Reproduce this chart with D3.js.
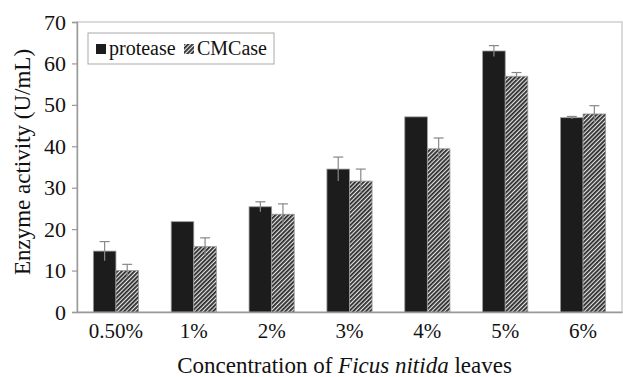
<!DOCTYPE html>
<html>
<head>
<meta charset="utf-8">
<script src="https://cdn.jsdelivr.net/npm/d3@7"></script>
<style>
  body { margin: 0; background: #fff; }
  text { font-family: "Liberation Serif", "Times New Roman", serif; fill: #111; }
</style>
</head>
<body>
<script>
// chart data
var categories = ["0.50%", "1%", "2%", "3%", "4%", "5%", "6%"];
var series = ["protease", "CMCase"];
var protease = [14.7, 21.8, 25.4, 34.5, 47.1, 63.0, 46.9];
var proteaseErr = [2.3, 0, 1.2, 2.9, 0, 1.3, 0.3];
var cmcase = [10.0, 15.8, 23.6, 31.6, 39.4, 56.9, 47.8];
var cmcaseErr = [1.5, 2.1, 2.5, 2.9, 2.6, 0.9, 2.0];
var yTicks = [0, 10, 20, 30, 40, 50, 60, 70];

var w = 623, h = 377;
var margin = {top: 22, right: 1, bottom: 65, left: 77};
var iw = w - margin.left - margin.right;
var ih = h - margin.top - margin.bottom;

var svg = d3.select("body").append("svg")
    .attr("width", w)
    .attr("height", h);

// hatch for CMCase
var defs = svg.append("defs");
var pat = defs.append("pattern")
    .attr("id", "hatch")
    .attr("patternUnits", "userSpaceOnUse")
    .attr("width", 3)
    .attr("height", 3)
    .attr("patternTransform", "rotate(45)");
pat.append("rect").attr("width", 3).attr("height", 3).attr("fill", "#e6e6e6");
pat.append("rect").attr("width", 1.8).attr("height", 3).attr("fill", "#2a2a2a");

var g = svg.append("g").attr("transform", "translate(" + margin.left + "," + margin.top + ")");

var x0 = d3.scaleBand().domain(categories).range([0, iw]).paddingInner(0.42).paddingOuter(0.21);
var x1 = d3.scaleBand().domain(series).range([0, x0.bandwidth()]);
var y = d3.scaleLinear().domain([0, 70]).range([ih, 0]);

// frame
g.append("rect")
    .attr("width", iw).attr("height", ih)
    .attr("fill", "none").attr("stroke", "#c4c4c4").attr("stroke-width", 1.2);

var rows = categories.map(function(c, i) {
  return [
    {cat: c, s: "protease", v: protease[i], e: proteaseErr[i]},
    {cat: c, s: "CMCase", v: cmcase[i], e: cmcaseErr[i]}
  ];
});
var flat = [].concat.apply([], rows);

g.selectAll("rect.bar")
  .data(flat)
  .enter()
  .append("rect")
  .attr("class", "bar")
  .attr("x", function(d) { return x0(d.cat) + x1(d.s); })
  .attr("y", function(d) { return y(d.v); })
  .attr("width", x1.bandwidth())
  .attr("height", function(d) { return ih - y(d.v); })
  .attr("fill", function(d) { return d.s == "protease" ? "#1c1c1c" : "url(#hatch)"; })
  .attr("stroke", "#9a9a9a")
  .attr("stroke-width", 0.8);

// error bars
var eb = g.selectAll("g.err")
  .data(flat.filter(function(d) { return d.e > 0; }))
  .enter()
  .append("g")
  .attr("class", "err");
eb.append("line")
  .attr("x1", function(d) { return x0(d.cat) + x1(d.s) + x1.bandwidth() / 2; })
  .attr("x2", function(d) { return x0(d.cat) + x1(d.s) + x1.bandwidth() / 2; })
  .attr("y1", function(d) { return y(d.v - d.e); })
  .attr("y2", function(d) { return y(d.v + d.e); })
  .attr("stroke", "#888")
  .attr("stroke-width", 1.2);
eb.append("line")
  .attr("x1", function(d) { return x0(d.cat) + x1(d.s) + x1.bandwidth() / 2 - 5; })
  .attr("x2", function(d) { return x0(d.cat) + x1(d.s) + x1.bandwidth() / 2 + 5; })
  .attr("y1", function(d) { return y(d.v + d.e); })
  .attr("y2", function(d) { return y(d.v + d.e); })
  .attr("stroke", "#888")
  .attr("stroke-width", 1.2);

// y axis
var yAxis = g.append("g")
  .call(d3.axisLeft(y).tickValues(yTicks).tickSize(5).tickPadding(6));
yAxis.select(".domain").attr("stroke", "#999").attr("stroke-width", 1.4);
yAxis.selectAll(".tick line").attr("stroke", "#999").attr("stroke-width", 1.2);
yAxis.selectAll("text").attr("font-size", "22px").attr("fill", "#111")
  .attr("font-family", "Liberation Serif, serif");

// x axis
var xAxis = g.append("g")
  .attr("transform", "translate(0," + ih + ")")
  .call(d3.axisBottom(x0).tickSize(0).tickPadding(11));
xAxis.select(".domain").attr("stroke", "#999").attr("stroke-width", 1.4);
xAxis.selectAll("text").attr("font-size", "21px").attr("fill", "#111")
  .attr("font-family", "Liberation Serif, serif");

// axis titles
svg.append("text")
  .attr("transform", "translate(30," + (margin.top + ih / 2 - 5) + ") rotate(-90)")
  .attr("text-anchor", "middle")
  .attr("font-size", "23px")
  .text("Enzyme activity (U/mL)");

var xt = svg.append("text")
  .attr("x", margin.left + iw / 2 - 5)
  .attr("y", 373)
  .attr("text-anchor", "middle")
  .attr("font-size", "23px");
xt.append("tspan").text("Concentration of ");
xt.append("tspan").attr("font-style", "italic").text("Ficus nitida");
xt.append("tspan").text(" leaves");

// legend
var leg = svg.append("g").attr("transform", "translate(88,33)");
leg.append("rect")
  .attr("width", 186).attr("height", 31)
  .attr("fill", "#fff").attr("stroke", "#aaa").attr("stroke-width", 1);
var items = [
  {s: series[0], fill: "#1c1c1c", x: 8},
  {s: series[1], fill: "url(#hatch)", x: 96}
];
leg.selectAll("rect.key")
  .data(items)
  .enter()
  .append("rect")
  .attr("class", "key")
  .attr("x", function(d) { return d.x; })
  .attr("y", 11)
  .attr("width", 10).attr("height", 10)
  .attr("fill", function(d) { return d.fill; });
leg.selectAll("text.key")
  .data(items)
  .enter()
  .append("text")
  .attr("class", "key")
  .attr("x", function(d) { return d.x + 13; })
  .attr("y", 22)
  .attr("font-size", "20px")
  .text(function(d) { return d.s; });
</script>
</body>
</html>
